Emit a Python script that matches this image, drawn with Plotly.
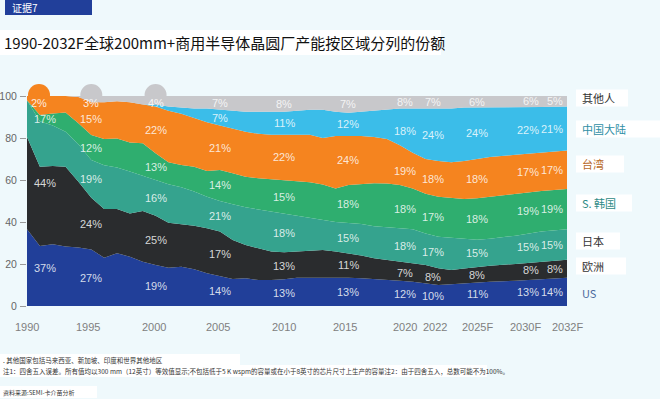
import plotly.graph_objects as go

# ---------------- data ----------------
years = list(range(1990, 2027)) + [2028, 2030, 2032]

us = [36.5, 28.6, 29.4, 28.3, 27.8, 26.9, 23.0, 25.1, 23.5, 21.1,
      19.5, 18.2, 18.7, 17.5, 15.6, 14.4, 12.9, 13.2, 12.4, 12.4,
      12.7, 13.5, 13.5, 13.8, 13.8, 13.5, 13.2, 12.7, 12.4, 12.0,
      11.6, 10.8, 10.0, 10.3, 10.8, 11.3, 11.6, 12.0, 12.9, 13.5]
europe = [44.0, 37.7, 37.3, 38.0, 31.4, 24.7, 23.2, 21.1, 20.6, 24.1,
          23.5, 21.4, 20.2, 20.7, 21.4, 21.1, 18.5, 15.8, 15.1, 13.5,
          12.9, 12.4, 12.7, 12.9, 12.1, 11.6, 10.8, 10.0, 9.5, 9.1,
          8.7, 8.7, 8.0, 6.8, 7.1, 7.3, 7.6, 8.0, 8.2, 8.5]
japan = [17.5, 21.7, 19.3, 16.7, 17.8, 17.9, 20.8, 19.8, 19.9, 16.8,
         17.0, 18.4, 17.6, 16.3, 15.0, 14.5, 17.1, 18.0, 18.5, 19.1,
         18.4, 17.1, 15.8, 14.3, 14.1, 14.4, 15.0, 15.3, 15.6, 15.9,
         16.2, 15.0, 15.0, 15.4, 14.1, 12.9, 12.8, 13.5, 14.4, 14.5]
korea = [0.0, 3.0, 5.7, 9.2, 10.0, 11.9, 12.5, 13.8, 13.9, 15.5,
         12.7, 10.4, 10.6, 11.8, 12.3, 14.8, 14.7, 14.6, 14.8, 15.3,
         16.0, 16.2, 16.9, 16.9, 16.0, 18.1, 18.9, 20.4, 20.8, 20.6,
         19.5, 19.0, 19.0, 19.1, 19.0, 19.8, 20.0, 20.2, 19.3, 19.2]
taiwan = [2.0, 9.0, 8.3, 7.8, 12.5, 15.6, 17.5, 17.7, 19.1, 18.5,
          22.3, 24.6, 24.4, 23.2, 23.2, 21.2, 21.3, 21.4, 21.2, 21.2,
          21.5, 22.3, 22.6, 22.1, 25.0, 23.4, 23.1, 22.1, 21.2, 18.9,
          17.0, 16.5, 17.0, 16.9, 18.0, 18.7, 19.0, 18.3, 18.2, 18.3]
china = [0, 0, 0, 0, 0, 0, 0, 0, 0, 0,
         1.0, 2.0, 3.0, 4.5, 6.5, 7.5, 8.5, 9.5, 10.5, 11.0,
         11.0, 11.5, 12.0, 13.5, 11.5, 11.0, 11.5, 12.5, 14.0, 17.5,
         21.0, 24.0, 25.0, 25.5, 25.5, 24.5, 23.5, 22.5, 21.8, 21.0]
others = [0, 0, 0, 0, 0.5, 3.0, 3.0, 2.5, 3.0, 4.0,
          4.0, 5.0, 5.5, 6.0, 6.0, 6.5, 7.0, 7.5, 7.5, 7.5,
          7.5, 7.0, 6.5, 6.5, 7.5, 8.0, 7.5, 7.0, 6.5, 6.0,
          6.0, 6.0, 6.0, 6.0, 5.5, 5.5, 5.5, 5.5, 5.2, 5.0]

label_years = [1990, 1995, 2000, 2005, 2010, 2015, 2020, 2022, 2025, 2030, 2032]
tick_text = ["1990", "1995", "2000", "2005", "2010", "2015", "2020", "2022",
             "2025F", "2030F", "2032F"]
us_lbl = [37, 27, 19, 14, 13, 13, 12, 10, 11, 13, 14]
eu_lbl = [44, 24, 25, 17, 13, 11, 7, 8, 8, 8, 8]
jp_lbl = [17, 19, 16, 21, 18, 15, 18, 17, 15, 15, 15]
kr_lbl = [None, 12, 13, 14, 15, 18, 18, 17, 18, 19, 19]
tw_lbl = [None, 15, 22, 21, 22, 24, 19, 18, 18, 17, 17]
cn_lbl = [None, None, None, 7, 11, 12, 18, 24, 24, 22, 21]
ot_lbl = [None, None, None, 7, 8, 7, 8, 7, 6, 6, 5]
# small shares shown in bubbles above the chart
bubble_years = [1990, 1995, 2000]
bubble_text = ["2%", "3%", "4%"]
bubble_series = ["台湾", "其他人", "其他人"]

names = ["US", "欧洲", "日本", "S. 韩国", "台湾", "中国大陆", "其他人"]
series = [us, europe, japan, korea, taiwan, china, others]
labels = [us_lbl, eu_lbl, jp_lbl, kr_lbl, tw_lbl, cn_lbl, ot_lbl]
colors = ["#213f99", "#2a2c2e", "#35a38e", "#2fae6f", "#f5841f", "#3bbde9", "#c8c8cb"]
legend_colors = ["#4a6a9c", "#333333", "#333333", "#2e8a86", "#b86a2a", "#2f8fa6", "#333333"]

# ---------------- layout geometry / style ----------------
W_FIG, H_FIG = 660, 399
L, T, PW, PH = 27, 96, 540, 210
# per-column label placement (anchor, pixel shift)
col_anchor = {1990: ("left", 5), 2020: ("center", -8), 2022: ("center", -5),
              2030: ("right", 0), 2032: ("right", -2)}
tick_shift = {1995: -3, 2000: -2, 2005: -2, 2015: -3, 2020: -8, 2022: -3, 2030: -16}
LBL_FONT = dict(family="Liberation Sans, Arial", size=11, color="rgba(255,255,255,0.82)")


def px(x):
    return (x - L) / PW


def py(y):
    return (T + PH - y) / PH


fig = go.Figure()

# stacked areas
for name, vals, col in zip(names, series, colors):
    fig.add_trace(go.Scatter(
        x=years, y=vals, name=name, stackgroup="one", mode="lines",
        line=dict(width=0, color=col), fillcolor=col, hoverinfo="skip",
        showlegend=False))

shapes = []
annotations = []

# data labels at band midpoints
idx = {y: i for i, y in enumerate(years)}
cum_prev = [0.0] * len(years)
for vals, lbls in zip(series, labels):
    for yr, lb in zip(label_years, lbls):
        if lb is None:
            continue
        i = idx[yr]
        mid = cum_prev[i] + vals[i] / 2
        anc, sh = col_anchor.get(yr, ("center", 0))
        annotations.append(dict(x=yr, y=mid, xref="x", yref="y", text=f"{lb}%",
                                showarrow=False, xanchor=anc, yanchor="middle",
                                xshift=sh, font=LBL_FONT))
    cum_prev = [a + b for a, b in zip(cum_prev, vals)]

# bubbles
for yr, txt, ser in zip(bubble_years, bubble_text, bubble_series):
    col = colors[names.index(ser)]
    dx = 12 if yr == label_years[0] else 0
    shapes.append(dict(type="circle", xref="x", yref="paper",
                       xsizemode="pixel", ysizemode="pixel",
                       xanchor=yr, yanchor=1, x0=dx - 11, x1=dx + 11,
                       y0=-10, y1=12, fillcolor=col, line=dict(width=0),
                       layer="below"))
    annotations.append(dict(x=yr, y=1, xref="x", yref="paper", text=txt,
                            showarrow=False, xshift=dx, yshift=1,
                            font=dict(family="Liberation Sans, Arial", size=11,
                                      color="rgba(255,255,255,0.85)")))

# x tick labels
for yr, tt in zip(label_years, tick_text):
    annotations.append(dict(x=yr, y=0, xref="x", yref="paper", text=tt,
                            showarrow=False, yanchor="middle", yshift=-21,
                            xshift=tick_shift.get(yr, 0),
                            font=dict(family="Liberation Sans, Arial", size=11,
                                      color="#808080")))

# header tag
shapes.append(dict(type="rect", xref="paper", yref="paper",
                   x0=px(5), x1=px(92), y0=py(15), y1=py(0),
                   fillcolor="#213f9a", line=dict(width=0)))
annotations.append(dict(x=px(10), y=py(7.5), xref="paper", yref="paper",
                        xanchor="left", yanchor="middle", showarrow=False,
                        text="证据7",
                        font=dict(family="Noto Sans CJK SC", size=10, color="white")))

# title with white box
shapes.append(dict(type="rect", xref="paper", yref="paper",
                   x0=px(0), x1=px(441), y0=py(55), y1=py(30),
                   fillcolor="white", line=dict(width=0)))
annotations.append(dict(x=px(2), y=py(42), xref="paper", yref="paper",
                        xanchor="left", yanchor="middle", showarrow=False,
                        text="1990-2032F全球200mm+商用半导体晶圆厂产能按区域分列的份额",
                        font=dict(family="Noto Sans CJK SC", size=15, color="#111111")))

# right-side series labels
legend_y = [293, 266, 241, 203, 164, 129, 98]
box_right = [None, 626, 620, 632, 624, 660, 628]
for name, lc, yy, br in zip(names, legend_colors, legend_y, box_right):
    if br is not None:
        shapes.append(dict(type="rect", xref="paper", yref="paper",
                           x0=px(576), x1=px(br), y0=py(yy + 8.5), y1=py(yy - 8.5),
                           fillcolor="white", line=dict(width=0)))
    annotations.append(dict(x=px(580), y=py(yy), xref="paper", yref="paper",
                            xanchor="left", yanchor="middle", showarrow=False,
                            text=name,
                            font=dict(family="Noto Sans CJK SC", size=11, color=lc)))

# footnotes
notes = [
    (". 其他国家包括马来西亚、新加坡、印度和世界其他地区", 360, 240, 6.5),
    ("注1：四舍五入误差。所有值均以300 mm（12英寸）等效值显示;不包括低于5 K wspm的容量或在小于8英寸的芯片尺寸上生产的容量注2：由于四舍五入，总数可能不为100%。",
     371, 487, 6.5),
    ("资料来源:SEMI-卡介苗分析", 392, 97, 6.0),
]
for txt, yy, br, fs in notes:
    shapes.append(dict(type="rect", xref="paper", yref="paper",
                       x0=px(0), x1=px(br), y0=py(yy + 6), y1=py(yy - 6),
                       fillcolor="white", line=dict(width=0)))
    annotations.append(dict(x=px(1), y=py(yy), xref="paper", yref="paper",
                            xanchor="left", yanchor="middle", showarrow=False,
                            text=txt,
                            font=dict(family="Noto Sans CJK SC", size=fs, color="#333333")))

fig.update_layout(
    width=W_FIG, height=H_FIG,
    margin=dict(l=L, r=W_FIG - L - PW, t=T, b=H_FIG - T - PH, pad=0, autoexpand=False),
    paper_bgcolor="#eff9fc", plot_bgcolor="#eff9fc",
    shapes=shapes, annotations=annotations, showlegend=False,
    xaxis=dict(range=[1990, 2032], showticklabels=False, automargin=False,
               showgrid=False, zeroline=False, showline=False, ticks=""),
    yaxis=dict(range=[0, 100], tickvals=[0, 20, 40, 60, 80, 100], automargin=False,
               showgrid=False, zeroline=False, showline=False,
               ticks="outside", ticklen=6, tickcolor="#9a9a9a", tickwidth=1,
               ticklabelstandoff=1,
               tickfont=dict(family="Liberation Sans, Arial", size=10.5, color="#666666")),
)

fig.write_html("out.html", config={"displayModeBar": False},
               post_script="document.body.style.margin='0';")
